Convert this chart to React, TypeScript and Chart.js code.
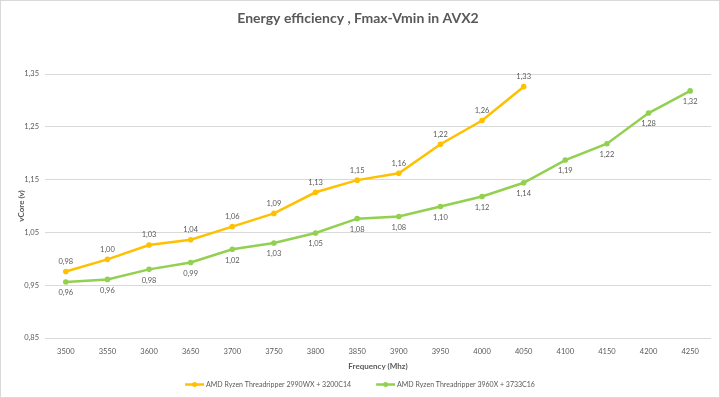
import React, { useEffect, useRef } from "react";
import { Chart, registerables } from "chart.js";

Chart.register(...registerables);

const frequencies = ["3500", "3550", "3600", "3650", "3700", "3750", "3800", "3850", "3900", "3950", "4000", "4050", "4100", "4150", "4200", "4250"];
const tr2990wx = [0.976, 0.999, 1.026, 1.036, 1.061, 1.086, 1.126, 1.149, 1.162, 1.217, 1.262, 1.326, null, null, null, null];
const tr3960x = [0.956, 0.961, 0.98, 0.993, 1.018, 1.03, 1.049, 1.076, 1.08, 1.099, 1.118, 1.144, 1.187, 1.218, 1.276, 1.318];
const seriesNames = ["AMD Ryzen Threadripper 2990WX + 3200C14", "AMD Ryzen Threadripper 3960X + 3733C16"];
const colors = ["#FFC000", "#92D050"];

const FONT = "Lato, 'Open Sans', sans-serif";
const TEXT = "#595959";

const fmt = (v: number) => v.toFixed(2).replace(".", ",");

const dataLabels = {
  id: "dataLabels",
  afterDatasetsDraw(chart: any) {
    const ctx = chart.ctx;
    ctx.save();
    ctx.font = `7.5px ${FONT}`;
    ctx.fillStyle = TEXT;
    ctx.textAlign = "center";
    ctx.textBaseline = "middle";
    chart.data.datasets.forEach((ds: any, i: number) => {
      const meta = chart.getDatasetMeta(i);
      meta.data.forEach((pt: any, j: number) => {
        const v = ds.data[j];
        if (v == null) return;
        const dy = i === 0 ? -10 : 11;
        ctx.fillText(fmt(v), pt.x, pt.y + dy);
      });
    });
    ctx.restore();
  },
};

const customLegend = {
  id: "customLegend",
  afterDraw(chart: any) {
    const ctx = chart.ctx;
    ctx.save();
    ctx.font = `7px ${FONT}`;
    ctx.textBaseline = "middle";
    ctx.textAlign = "left";
    const iconW = 19;
    const iconGap = 2;
    const itemGap = 25;
    const widths = seriesNames.map((n) => ctx.measureText(n).width);
    const total = widths.reduce((a, w) => a + iconW + iconGap + w, 0) + itemGap * (seriesNames.length - 1);
    let x = chart.width / 2 - total / 2;
    const y = 383.5;
    seriesNames.forEach((name, i) => {
      ctx.strokeStyle = colors[i];
      ctx.lineWidth = 2.5;
      ctx.beginPath();
      ctx.moveTo(x, y);
      ctx.lineTo(x + iconW, y);
      ctx.stroke();
      ctx.fillStyle = colors[i];
      ctx.beginPath();
      ctx.arc(x + iconW / 2, y, 2.5, 0, Math.PI * 2);
      ctx.fill();
      ctx.fillStyle = TEXT;
      ctx.fillText(name, x + iconW + iconGap, y);
      x += iconW + iconGap + widths[i] + itemGap;
    });
    ctx.restore();
  },
};

export default function App() {
  const ref = useRef<HTMLCanvasElement>(null);
  useEffect(() => {
    const chart = new Chart(ref.current!, {
      type: "line",
      data: {
        labels: frequencies,
        datasets: [tr2990wx, tr3960x].map((d, i) => ({
          label: seriesNames[i],
          data: d,
          borderColor: colors[i],
          backgroundColor: colors[i],
          borderWidth: 2.5,
          pointRadius: 2.8,
          pointHoverRadius: 2.8,
          pointStyle: "circle",
          pointBorderWidth: 0,
          spanGaps: false,
          tension: 0,
        })) as any,
      },
      options: {
        responsive: false,
        animation: false,
        layout: { padding: { left: 4, right: 8, top: 0, bottom: 26 } },
        plugins: {
          title: {
            display: true,
            text: "Energy efficiency , Fmax-Vmin in AVX2",
            color: TEXT,
            font: { family: FONT, size: 14, weight: "bold" },
            padding: { top: 8.6, bottom: 47.6 },
          },
          legend: { display: false },
          tooltip: { enabled: false },
        },
        scales: {
          x: {
            offset: true,
            grid: { display: false, drawTicks: false },
            border: { display: false },
            ticks: { color: TEXT, font: { family: FONT, size: 7.5 }, padding: 9, maxRotation: 0, autoSkip: false },
            title: {
              display: true,
              text: "Frequency (Mhz)",
              color: TEXT,
              font: { family: FONT, size: 8, weight: "bold" },
              padding: { top: 4, bottom: 0 },
            },
            afterFit: (s: any) => {
              s.height = 33;
            },
          },
          y: {
            min: 0.85,
            max: 1.35,
            grid: { color: "#d9d9d9", drawTicks: false, lineWidth: 1 },
            border: { display: false },
            ticks: { stepSize: 0.1, color: TEXT, font: { family: FONT, size: 7.5 }, padding: 6, callback: (v: any) => fmt(Number(v)) },
            title: {
              display: true,
              text: "vCore (v)",
              color: TEXT,
              font: { family: FONT, size: 8, weight: "bold" },
              padding: { top: 12, bottom: 0 },
            },
            afterFit: (s: any) => {
              s.width = 40;
            },
          },
        },
      },
      plugins: [dataLabels, customLegend],
    });
    return () => chart.destroy();
  }, []);
  return (
    <div style={{ position: "absolute", left: 0, top: 0, width: 720, height: 398, boxSizing: "border-box", border: "1px solid #d9d9d9", background: "#fff" }}>
      <canvas ref={ref} width={718} height={396} style={{ display: "block" }} />
    </div>
  );
}
